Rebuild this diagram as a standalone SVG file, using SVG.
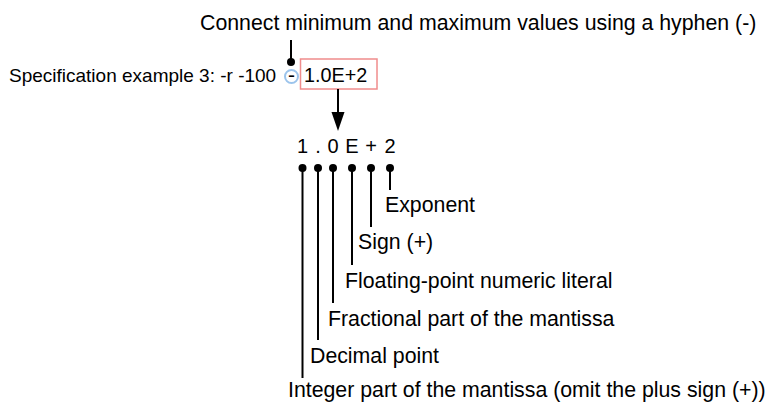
<svg xmlns="http://www.w3.org/2000/svg" width="766" height="403" viewBox="0 0 766 403">
<style>
  text { font-family: "Liberation Sans", Arial, sans-serif; fill: #000; }
  .t21 { font-size: 21.3px; }
  .t19 { font-size: 19px; }
  .mid { font-size: 20px; text-anchor: middle; }
  .ln { stroke: #000; stroke-width: 2; fill: none; }
  .dot { fill: #000; }
</style>
<rect width="766" height="403" fill="#fff"/>
<g id="note-top">
  <text class="t21" x="200" y="30">Connect minimum and maximum values using a hyphen (-)</text>
</g>
<g id="spec">
  <text class="t19" x="9" y="82">Specification example 3: -r -100</text>
  <circle cx="291.5" cy="76.5" r="6.5" fill="none" stroke="#9cc4ec" stroke-width="2"/>
  <text x="291.5" y="82" text-anchor="middle" style="font-size:21px">-</text>
</g>
<g id="value-box">
  <rect x="300.5" y="59" width="76.5" height="30" fill="none" stroke="#f08c8c" stroke-width="1.5"/>
  <text x="304" y="82" style="font-size:19.8px">1.0E+2</text>
</g>
<g id="breakdown">
  <text class="mid" x="302.5" y="153">1</text>
  <text class="mid" x="318" y="153">.</text>
  <text class="mid" x="333" y="153">0</text>
  <text class="mid" x="352" y="153">E</text>
  <text class="mid" x="371" y="153">+</text>
  <text class="mid" x="390" y="153">2</text>
</g>
<g id="label-exponent"><text class="t21" x="385" y="212">Exponent</text></g>
<g id="label-sign"><text class="t21" x="358" y="249">Sign (+)</text></g>
<g id="label-floating"><text class="t21" x="345" y="288">Floating-point numeric literal</text></g>
<g id="label-fractional"><text class="t21" x="328" y="326">Fractional part of the mantissa</text></g>
<g id="label-decimal"><text class="t21" x="310" y="363">Decimal point</text></g>
<g id="label-integer"><text class="t21" x="288" y="397">Integer part of the mantissa (omit the plus sign (+))</text></g>
<g id="connectors">
  <line class="ln" x1="291" y1="40" x2="291" y2="62"/>
  <circle class="dot" cx="291" cy="62" r="4"/>
  <line class="ln" x1="338" y1="89" x2="338" y2="114"/>
  <polygon class="dot" points="331.5,112 344.5,112 338,131"/>
  <line class="ln" x1="302.5" y1="168" x2="302.5" y2="378"/>
  <line class="ln" x1="318" y1="168" x2="318" y2="340"/>
  <line class="ln" x1="333" y1="168" x2="333" y2="303"/>
  <line class="ln" x1="352" y1="168" x2="352" y2="265"/>
  <line class="ln" x1="371" y1="168" x2="371" y2="227"/>
  <line class="ln" x1="390" y1="168" x2="390" y2="190"/>
  <circle class="dot" cx="302.5" cy="168" r="4"/>
  <circle class="dot" cx="318" cy="168" r="4"/>
  <circle class="dot" cx="333" cy="168" r="4"/>
  <circle class="dot" cx="352" cy="168" r="4"/>
  <circle class="dot" cx="371" cy="168" r="4"/>
  <circle class="dot" cx="390" cy="168" r="4"/>
</g>
</svg>
